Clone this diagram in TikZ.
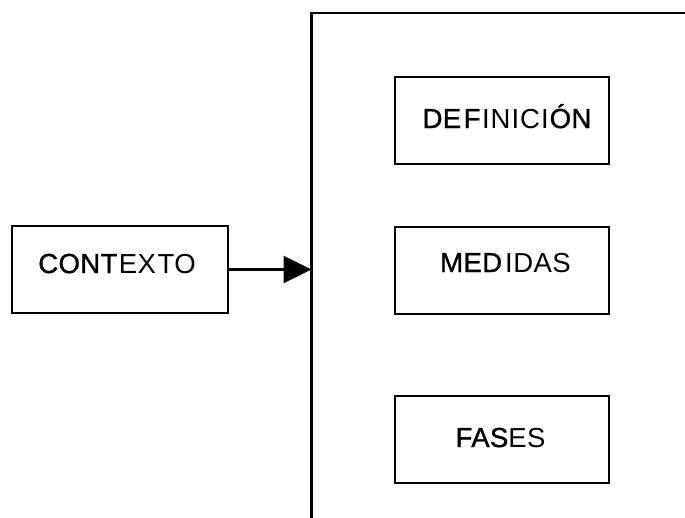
\documentclass[tikz,border=0pt]{standalone}
\usepackage{fontspec}
\setmainfont{Liberation Sans}[LetterSpace=1.5]
\usetikzlibrary{arrows.meta}
% heavier fragments of the labels
\newcommand\dk[1]{{\addfontfeature{FakeBold=1.2}#1}}
\begin{document}
\begin{tikzpicture}[x=1pt,y=-1pt,
  box/.style={draw=black,line width=2.8pt,minimum width=216pt,minimum height=87pt,inner sep=0pt},
  lbl/.style={anchor=base,inner sep=0pt,font=\fontsize{27.5}{32}\selectfont},
  frame/.style={line width=2.6pt},
  arr/.style={line width=2.4pt,-{Triangle[length=28pt,width=27pt]}}]
\useasboundingbox (0,0) rectangle (685,517);

% left box and the three boxes on the right
\node[box] (ctx) at (120,269.5) {};
\node[box,minimum width=214pt] (def) at (502,120.5) {};
\node[box,minimum width=214pt] (med) at (502,270.5) {};
\node[box,minimum width=214pt] (fas) at (502,439.5) {};

\node[lbl] (ctxt) at (117,273) {\dk{CONT}\kern1.5pt EX\kern1.5pt TO};
\node[lbl] (deft) at (507,128) {\dk{DE}\kern2.5pt\dk{F}\kern1.5pt I\kern1pt N\kern1pt I\kern1pt C\kern1pt I\kern1pt\dk{ÓN}};
\node[lbl] (medt) at (505.5,272) {\dk{MED}\kern3pt I\kern0.5pt D\kern0.5pt A\kern0.5pt S};
\node[lbl] (fast) at (500.5,447) {\dk{FAS}ES};

% open frame: vertical line with a top rule running off to the right
\coordinate (vbot) at (311.5,518);
\coordinate (vtop) at (311.5,13);
\coordinate (hend) at (686,13);
\draw[frame] (vbot) -- (vtop) -- (hend);

% arrow from the context box onto the frame
\draw[arr] (ctx.east) -- (ctx.east -| vtop);
\end{tikzpicture}
\end{document}
